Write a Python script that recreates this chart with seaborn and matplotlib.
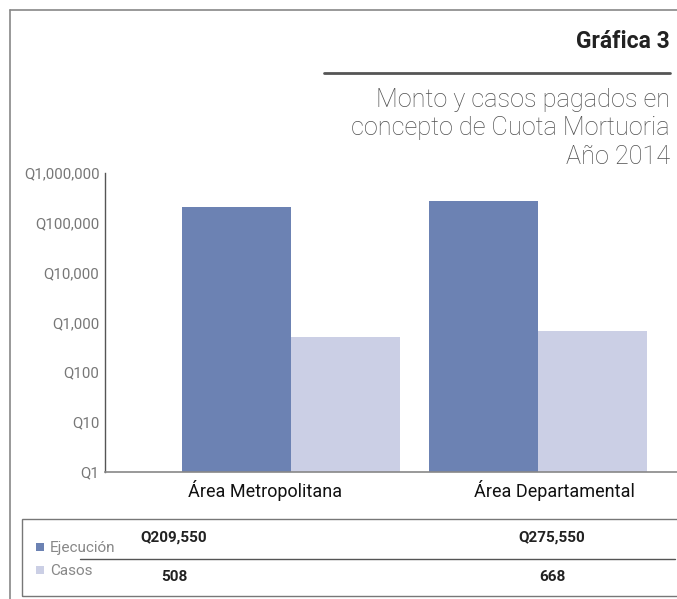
import seaborn as sns
import matplotlib.pyplot as plt
import matplotlib.ticker as mticker
import matplotlib.transforms as mtrans
from matplotlib.lines import Line2D
from matplotlib.patches import Rectangle
import pandas as pd

areas = ['Área Metropolitana', 'Área Departamental']
series = ['Ejecución', 'Casos']
ejecucion = [209550, 275550]
casos = [508, 668]
ejecucion_labels = ['Q209,550', 'Q275,550']
casos_labels = ['508', '668']
colors = ['#6c82b3', '#cbcfe5']

df = pd.DataFrame({
    'area': areas * 2,
    'serie': [series[0]] * 2 + [series[1]] * 2,
    'valor': ejecucion + casos,
})

sns.set_style('white')
plt.rcParams['font.family'] = ['Roboto', 'DejaVu Sans']

fig = plt.figure(figsize=(6.77, 5.99), dpi=100)
W, H = 677, 599


def fx(px):
    return px / W


def fy(py):
    return 1 - py / H


ax = fig.add_axes([fx(105), fy(472), fx(677) - fx(105), fy(173) - fy(472)])
ax.set_yscale('log')
sns.barplot(data=df, x='area', y='valor', hue='serie', palette=colors,
            width=0.883, gap=0, saturation=1, legend=False, linewidth=0,
            edgecolor='none', ax=ax)
ax.set_ylim(1, 1e6)
ax.set_xlim(-0.753, 1.563)
ax.yaxis.set_major_locator(mticker.LogLocator(base=10, numticks=10))
ax.yaxis.set_minor_locator(mticker.NullLocator())
ax.yaxis.set_major_formatter(mticker.FuncFormatter(lambda v, p: f'Q{v:,.0f}'))
ax.tick_params(axis='y', length=0, labelsize=10.8, labelcolor='#777777', pad=4)
ax.tick_params(axis='x', length=0, labelsize=13, labelcolor='#111111', pad=6)
ax.set_xlabel('')
ax.set_ylabel('')
# category labels sit slightly off the group centres in the original
for lab, dx in zip(ax.get_xticklabels(), [-26, 16]):
    lab.set_transform(lab.get_transform() +
                      mtrans.ScaledTranslation(dx / 100, 0, fig.dpi_scale_trans))
for s in ['top', 'right']:
    ax.spines[s].set_visible(False)
ax.spines['left'].set_color('#555555')
ax.spines['bottom'].set_color('#888888')
ax.spines['left'].set_linewidth(1)
ax.spines['bottom'].set_linewidth(1.2)

# page frame
fig.add_artist(Line2D([fx(10), 1], [fy(10), fy(10)], color='#888888', lw=1.2))
fig.add_artist(Line2D([fx(10), fx(10)], [fy(10), 0], color='#888888', lw=1.2))

# title block
fig.text(fx(670), fy(42), 'Gráfica 3', ha='right', va='center', fontsize=16.5,
         fontweight='bold', color='#222222')
fig.add_artist(Line2D([fx(324), fx(670)], [fy(73), fy(73)], color='#555555', lw=2))
subtitle = ['Monto y casos pagados en', 'concepto de Cuota Mortuoria', 'Año 2014']
for i, line in enumerate(subtitle):
    fig.text(fx(670), fy(100 + 28.5 * i), line, ha='right', va='center',
             fontsize=18.2, fontweight='light', color='#505050')

# data table
fig.add_artist(Rectangle((fx(22), fy(596)), 1, fy(519) - fy(596), fill=False,
                         edgecolor='#777777', lw=1))
fig.add_artist(Line2D([fx(80), fx(675)], [fy(559), fy(559)], color='#555555', lw=1))
for i, (name, col) in enumerate(zip(series, colors)):
    yy = 547 + 23 * i
    fig.add_artist(Rectangle((fx(36), fy(yy + 4)), fx(8), fy(0) - fy(8),
                             color=col, lw=0))
    fig.text(fx(50), fy(yy + 1), name, ha='left', va='center', fontsize=11,
             color='#888888')
centers = [174, 552]
for cx, a, b in zip(centers, ejecucion_labels, casos_labels):
    fig.text(fx(cx), fy(538), a, ha='center', va='center', fontsize=11,
             fontweight='bold', color='#222222')
    fig.text(fx(cx), fy(577), b, ha='center', va='center', fontsize=11,
             fontweight='bold', color='#222222')

fig.savefig('out.png', dpi=100)
